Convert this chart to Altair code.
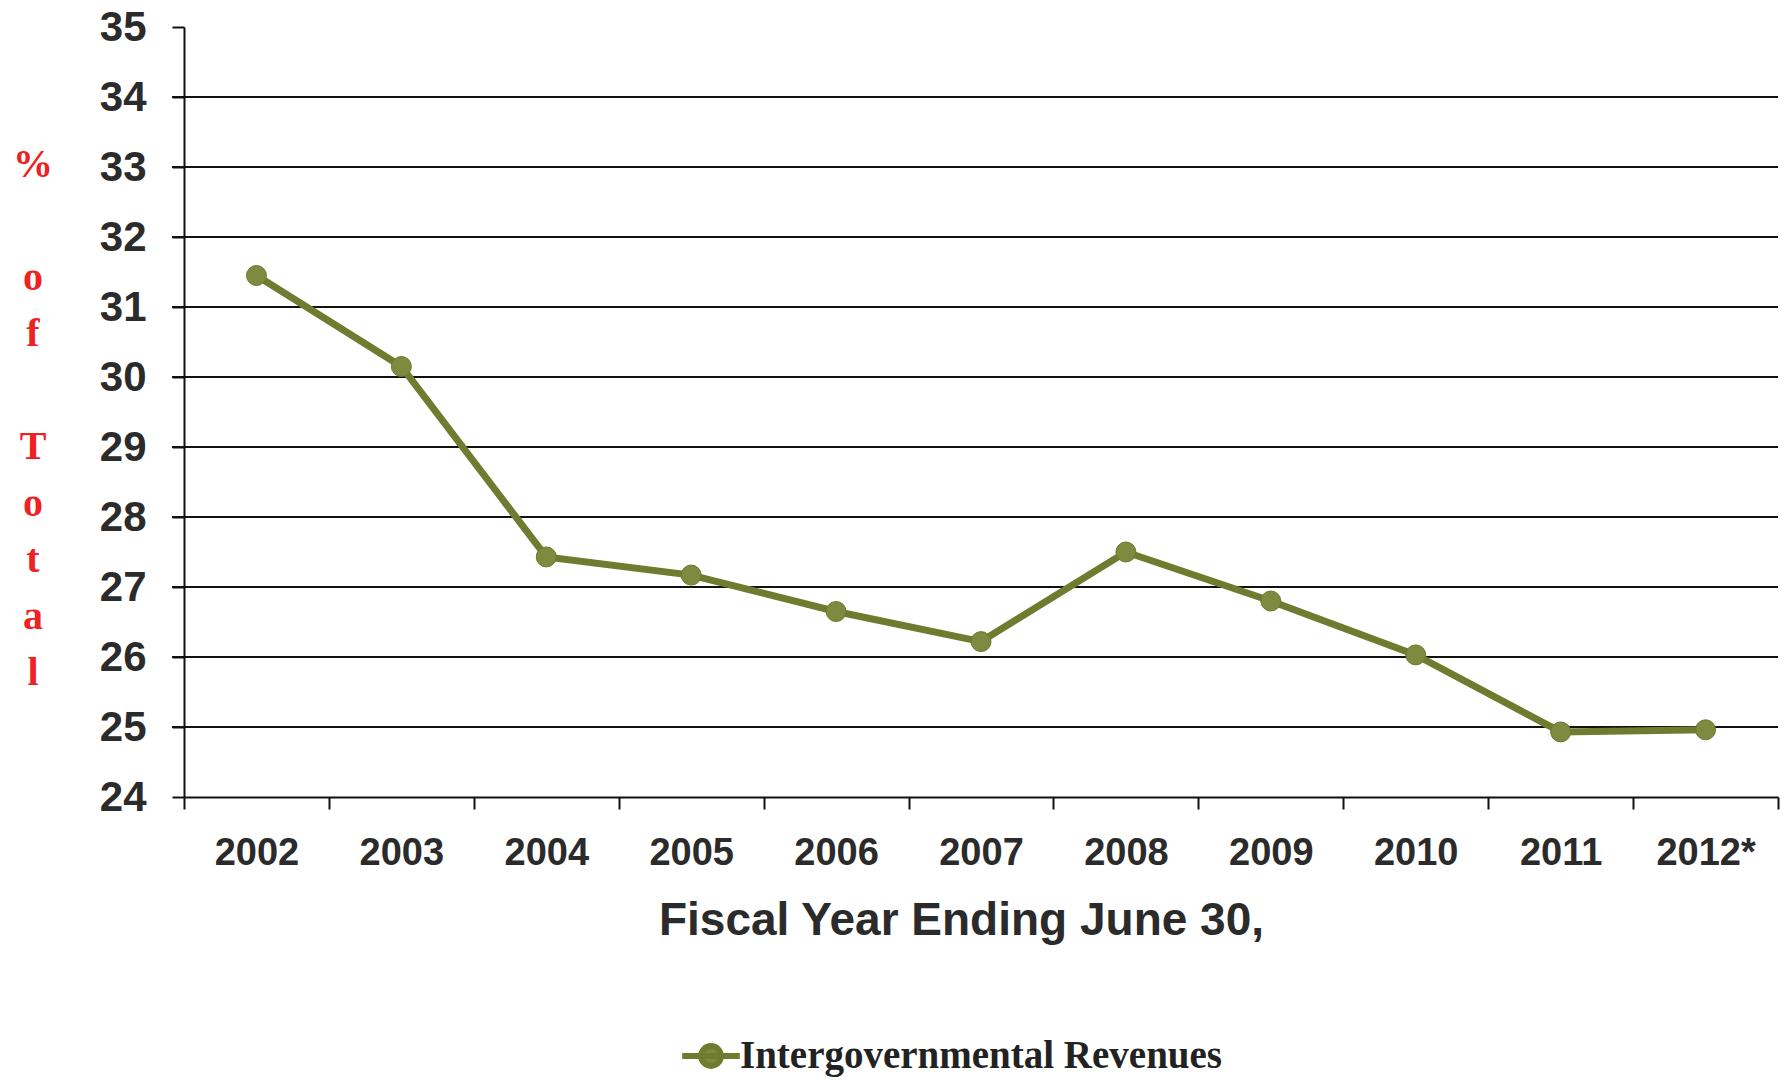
import altair as alt
import pandas as pd

years = ["2002", "2003", "2004", "2005", "2006", "2007", "2008", "2009", "2010", "2011", "2012*"]
values = [31.45, 30.15, 27.43, 27.17, 26.65, 26.22, 27.5, 26.8, 26.03, 24.93, 24.96]
series_name = "Intergovernmental Revenues"
y_ticks = [24, 25, 26, 27, 28, 29, 30, 31, 32, 33, 34, 35]
grid_values = [25, 26, 27, 28, 29, 30, 31, 32, 33, 34]
y_title_lines = ["%", "", "o", "f", "", "T", "o", "t", "a", "l"]

df = pd.DataFrame({"year": years, "value": values, "series": series_name})
grid_df = pd.DataFrame({"value": grid_values})
title_df = pd.DataFrame({"line": list(range(len(y_title_lines))), "ch": y_title_lines})

LINE = "#6f7c2f"
POINT = "#7d8a3f"

x_enc = alt.X(
    "year:N",
    sort=years,
    scale=alt.Scale(paddingInner=0, paddingOuter=0),
    axis=alt.Axis(
        title="Fiscal Year Ending June 30,",
        labelAngle=0,
        labelFont="Liberation Sans",
        labelFontWeight="bold",
        labelFontSize=38,
        labelColor="#2b2b2b",
        labelPadding=25,
        tickBand="extent",
        tickSize=12,
        tickWidth=2,
        tickColor="#111111",
        domainColor="#111111",
        domainWidth=2,
        titleFont="Liberation Sans",
        titleFontWeight="bold",
        titleFontSize=46,
        titleColor="#2b2b2b",
        titlePadding=26,
        titleX=777,
        grid=False,
    ),
)

y_scale = alt.Scale(domain=[24, 35], nice=False, zero=False)

y_axis = alt.Axis(
    values=y_ticks,
    grid=False,
    title=None,
    labelFont="Liberation Sans",
    labelFontWeight="bold",
    labelFontSize=42,
    labelColor="#2b2b2b",
    labelPadding=26,
    tickSize=12,
    tickWidth=2,
    tickColor="#111111",
    domainColor="#111111",
    domainWidth=2,
)

grid = alt.Chart(grid_df).mark_rule(color="#111111", strokeWidth=2).encode(
    y=alt.Y("value:Q", scale=y_scale, axis=y_axis),
    x=alt.value(-12),
    x2=alt.value(1594),
)

line = alt.Chart(df).mark_line(color=LINE, strokeWidth=7).encode(
    x=x_enc,
    y=alt.Y("value:Q", scale=y_scale, axis=y_axis),
)

points = alt.Chart(df).mark_point(
    filled=True, size=400, opacity=1, stroke="#6a7a2a", strokeWidth=1
).encode(
    x=alt.X("year:N", sort=years),
    y=alt.Y("value:Q", scale=y_scale, axis=y_axis),
    color=alt.Color(
        "series:N",
        scale=alt.Scale(range=[POINT]),
        legend=alt.Legend(
            title=None,
            orient="none",
            legendX=506,
            legendY=1008,
            symbolType="M -1.6 0 L 1.6 0 M -0.55 0 A 0.55 0.55 0 1 0 0.55 0 A 0.55 0.55 0 1 0 -0.55 0 Z",
            symbolSize=1296,
            symbolStrokeWidth=6,
            symbolStrokeColor=LINE,
            symbolFillColor=POINT,
            labelFont="Liberation Serif",
            labelFontWeight="bold",
            labelFontSize=39,
            labelColor="#222222",
            labelOffset=8,
            labelLimit=0,
        ),
    ),
)

y_title = alt.Chart(title_df).mark_text(
    font="Liberation Serif",
    fontWeight="bold",
    fontSize=40,
    color="#ee2222",
    align="center",
    baseline="middle",
).encode(
    text="ch:N",
    x=alt.value(-151),
    y=alt.Y(
        "line:Q",
        axis=None,
        scale=alt.Scale(domain=[0, len(y_title_lines) - 1], range=[138, 646], nice=False, zero=False),
    ),
)

main = alt.layer(grid, line, points)

chart = (
    alt.layer(main, y_title)
    .resolve_scale(y="independent")
    .properties(
        width=1594,
        height=770,
        autosize=alt.AutoSizeParams(type="none"),
        padding={"left": 184, "top": 27, "right": 9, "bottom": 283},
        background="white",
    )
    .configure_view(stroke=None)
)

chart.save("out.html", embed_options={"renderer": "svg", "actions": False})
